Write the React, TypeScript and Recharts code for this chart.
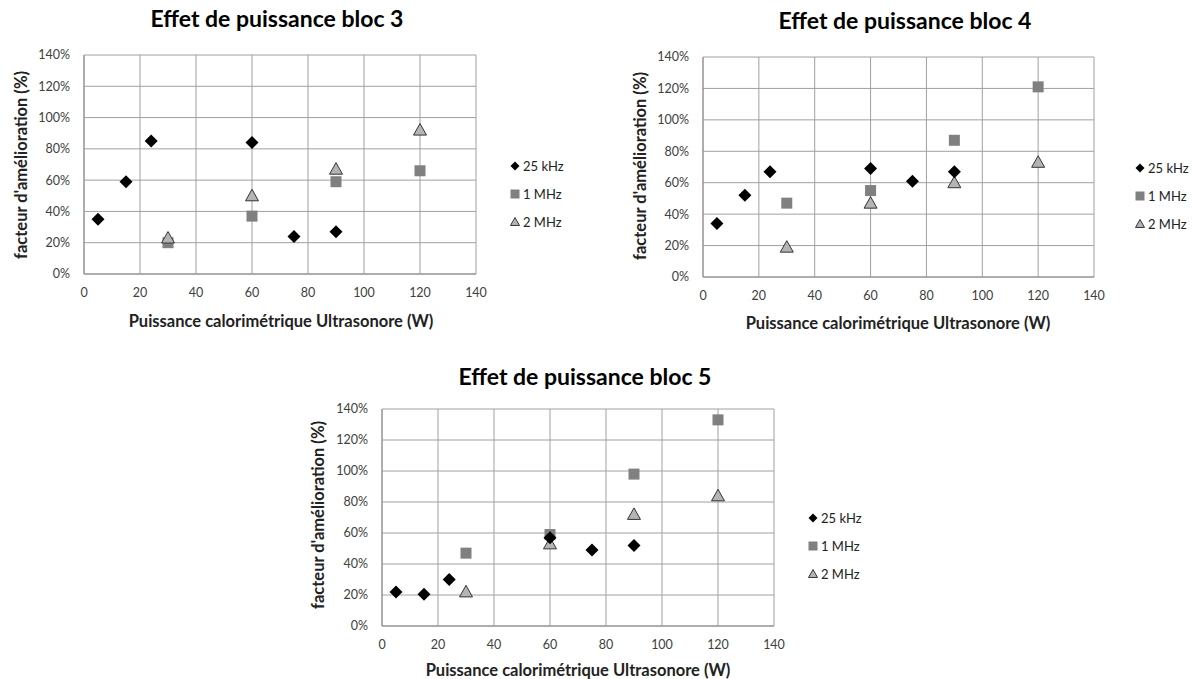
import { ScatterChart, Scatter, XAxis, YAxis, CartesianGrid } from 'recharts'

const FONT = 'Lato, "Open Sans", sans-serif'

const seriesNames = ['25 kHz', '1 MHz', '2 MHz']
const axisTicks = [0, 20, 40, 60, 80, 100, 120, 140]

// puissance (W) des points
const puissance25kHz = [5, 15, 24, 60, 75, 90]
const puissanceMHz = [30, 60, 90, 120]

// facteur d'amélioration (%) par bloc
const bloc3_25kHz = [35, 59, 85, 84, 24, 27]
const bloc3_1MHz = [20, 37, 59, 66]
const bloc3_2MHz = [23, 50, 67, 92]

const bloc4_25kHz = [34, 52, 67, 69, 61, 67]
const bloc4_1MHz = [47, 55, 87, 121]
const bloc4_2MHz = [19, 47, 60, 73]

const bloc5_25kHz = [22, 20.5, 30, 57, 49, 52]
const bloc5_1MHz = [47, 59, 98, 133]
const bloc5_2MHz = [22, 53, 72, 84]

const toPoints = (xs: number[], ys: number[]) => xs.map((x, i) => ({ x, y: ys[i] }))

// marqueurs façon Excel
const Diamond = ({ cx, cy, r = 6.5 }: any) => (
	<polygon points={`${cx},${cy - r} ${cx + r},${cy} ${cx},${cy + r} ${cx - r},${cy}`} fill="#000" />
)
const Square = ({ cx, cy, r = 5.5 }: any) => (
	<rect x={cx - r} y={cy - r} width={2 * r} height={2 * r} fill="#808080" />
)
const Triangle = ({ cx, cy, r = 6.5 }: any) => (
	<polygon
		points={`${cx},${cy - r} ${cx + r},${cy + r * 0.77} ${cx - r},${cy + r * 0.77}`}
		fill="#b4b4b4"
		stroke="#333"
		strokeWidth={1}
	/>
)
const markers = [Diamond, Square, Triangle]
const legendSizes = [4.5, 4.5, 4.5]

type BlocProps = {
	title: string
	box: { left: number; top: number; width: number; height: number }
	margin: { top: number; right: number; bottom: number; left: number }
	titleAt: [number, number]
	xLabelAt: [number, number]
	yLabelAt: [number, number]
	legendAt: [number, number]
	v25: number[]
	v1: number[]
	v2: number[]
}

function Bloc(p: BlocProps) {
	const tickStyle = { fontSize: 12.5, fill: '#404040', fontFamily: FONT }
	return (
		<div style={{ position: 'absolute', ...p.box }}>
			<div
				style={{
					position: 'absolute', left: p.titleAt[0], top: p.titleAt[1],
					transform: 'translate(-50%, -50%)', whiteSpace: 'nowrap',
					fontFamily: FONT, fontWeight: 700, fontSize: 23, color: '#000'
				}}
			>
				{p.title}
			</div>
			<ScatterChart width={p.box.width} height={p.box.height} margin={p.margin}>
				<CartesianGrid stroke="#a0a0a0" strokeWidth={1} />
				<XAxis
					type="number" dataKey="x" domain={[0, 140]} ticks={axisTicks}
					tickLine={false} tickSize={0} tickMargin={14} height={30}
					axisLine={{ stroke: '#8c8c8c' }} tick={tickStyle}
				/>
				<YAxis
					type="number" dataKey="y" domain={[0, 140]} ticks={axisTicks}
					tickFormatter={(v: number) => `${v}%`}
					tickLine={false} tickSize={0} tickMargin={14} width={60}
					axisLine={{ stroke: '#8c8c8c' }} tick={tickStyle}
				/>
				<Scatter name={seriesNames[1]} data={toPoints(puissanceMHz, p.v1)} shape={(s: any) => <Square cx={s.cx} cy={s.cy} />} isAnimationActive={false} />
				<Scatter name={seriesNames[2]} data={toPoints(puissanceMHz, p.v2)} shape={(s: any) => <Triangle cx={s.cx} cy={s.cy} />} isAnimationActive={false} />
				<Scatter name={seriesNames[0]} data={toPoints(puissance25kHz, p.v25)} shape={(s: any) => <Diamond cx={s.cx} cy={s.cy} />} isAnimationActive={false} />
			</ScatterChart>
			<div
				style={{
					position: 'absolute', left: p.xLabelAt[0], top: p.xLabelAt[1],
					transform: 'translate(-50%, -50%)', whiteSpace: 'nowrap',
					fontFamily: FONT, fontWeight: 700, fontSize: 16.5, color: '#222'
				}}
			>
				Puissance calorimétrique Ultrasonore (W)
			</div>
			<div
				style={{
					position: 'absolute', left: p.yLabelAt[0], top: p.yLabelAt[1],
					transform: 'translate(-50%, -50%) rotate(-90deg)', whiteSpace: 'nowrap',
					fontFamily: FONT, fontWeight: 700, fontSize: 16.5, color: '#222'
				}}
			>
				facteur d'amélioration (%)
			</div>
			<div style={{ position: 'absolute', left: p.legendAt[0], top: p.legendAt[1], fontFamily: FONT, fontSize: 13, color: '#222' }}>
				{seriesNames.map((name, i) => {
					const M = markers[i]
					return (
						<div key={name} style={{ display: 'flex', alignItems: 'center', height: 28 }}>
							<svg width={12} height={12} style={{ marginRight: 2 }}>
								<M cx={6} cy={6} r={legendSizes[i]} />
							</svg>
							<span>{name}</span>
						</div>
					)
				})}
			</div>
		</div>
	)
}

export default function App() {
	return (
		<div style={{ position: 'absolute', left: 0, top: 0, width: 1192, height: 679, background: '#fff', overflow: 'hidden' }}>
			<Bloc
				title="Effet de puissance bloc 3"
				box={{ left: 0, top: 0, width: 600, height: 340 }}
				margin={{ top: 55, right: 124, bottom: 36, left: 24 }}
				titleAt={[277, 18]} xLabelAt={[281, 321]} yLabelAt={[21, 165]} legendAt={[509, 152]}
				v25={bloc3_25kHz} v1={bloc3_1MHz} v2={bloc3_2MHz}
			/>
			<Bloc
				title="Effet de puissance bloc 4"
				box={{ left: 600, top: 0, width: 592, height: 340 }}
				margin={{ top: 57, right: 98, bottom: 33, left: 43 }}
				titleAt={[305, 20]} xLabelAt={[298, 323]} yLabelAt={[40, 166]} legendAt={[534, 154]}
				v25={bloc4_25kHz} v1={bloc4_1MHz} v2={bloc4_2MHz}
			/>
			<Bloc
				title="Effet de puissance bloc 5"
				box={{ left: 300, top: 350, width: 600, height: 329 }}
				margin={{ top: 59, right: 126, bottom: 23, left: 22 }}
				titleAt={[285, 26]} xLabelAt={[278, 320]} yLabelAt={[18, 165]} legendAt={[507, 154]}
				v25={bloc5_25kHz} v1={bloc5_1MHz} v2={bloc5_2MHz}
			/>
		</div>
	)
}
